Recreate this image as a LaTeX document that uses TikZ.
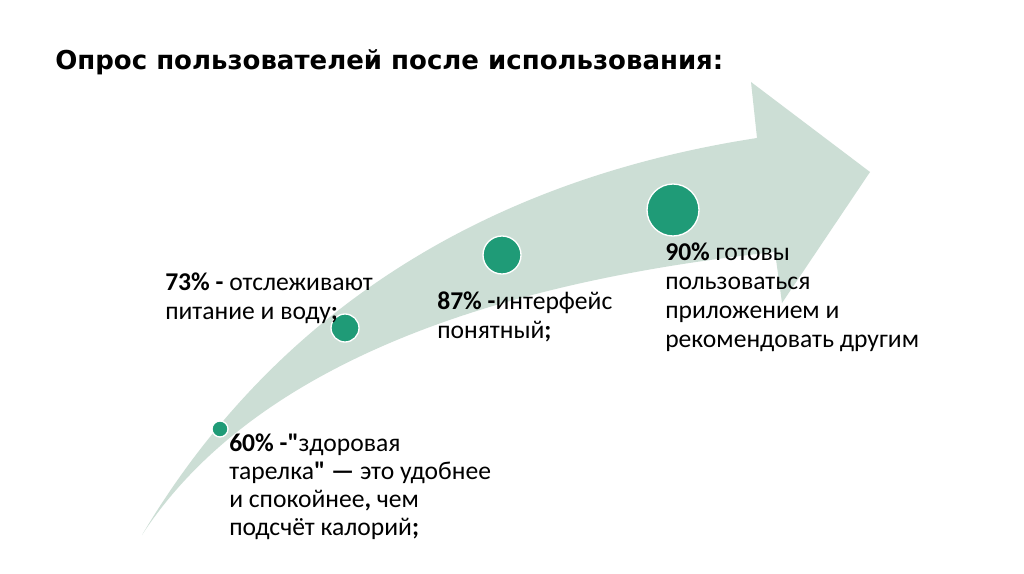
\documentclass[tikz,border=0pt]{standalone}
\usepackage{fontspec}
\setmainfont{Carlito}[Ligatures=TeXOff]
\newfontfamily\titlefont{DejaVu Sans}
\usetikzlibrary{positioning}
\definecolor{arrowfill}{HTML}{CCDED5}
\definecolor{tealdot}{HTML}{1F9B77}

\begin{document}
\begin{tikzpicture}[x=0.75pt, y=-0.75pt,
  dot/.style={circle, fill=tealdot, draw=white, line width=1pt, inner sep=0pt},
  note/.style={anchor=north west, inner sep=0pt, align=left, text=black,
    font=\fontsize{19.2}{21.75}\selectfont}]

% Background
\fill[white] (0,0) rectangle (1024,574);

% Title
\node[anchor=base west, inner sep=0pt, font=\titlefont\bfseries\fontsize{19.5}{23}\selectfont]
  (title) at (55,70) {Опрос пользователей после использования:};

% Curved arrow
\fill[arrowfill] (142,535) .. controls (240,370) and (420,190) .. (757,138)
  -- (751,82) -- (870,172) -- (782,303) -- (775,252)
  .. controls (420,290) and (230,400) .. cycle;

% Markers along the arrow
\node[dot, minimum size=12pt] (d60) at (220,429) {};
\node[dot, minimum size=21pt] (d73) at (345,328) {};
\node[dot, minimum size=28.5pt] (d87) at (502,255) {};
\node[dot, minimum size=39pt] (d90) at (673,210) {};

% Survey results
\node[note] (t73) at (165,273) {\textbf{73\% -} отслеживают\\питание и воду\textbf{;}};
\node[note] (t87) at (437,292) {\textbf{87\% -}интерфейс\\понятный\textbf{;}};
\node[note] (t90) at (665,243)
  {\textbf{90\%} готовы\\пользоваться\\приложением и\\рекомендовать другим};
\node[note, font=\fontsize{19.2}{20.8}\selectfont] (t60) at (229,434)
  {\textbf{60\% -"}здоровая\\тарелка\textbf{" —} это удобнее\\и спокойнее\textbf{,} чем\\подсчёт калорий\textbf{;}};

\end{tikzpicture}
\end{document}
